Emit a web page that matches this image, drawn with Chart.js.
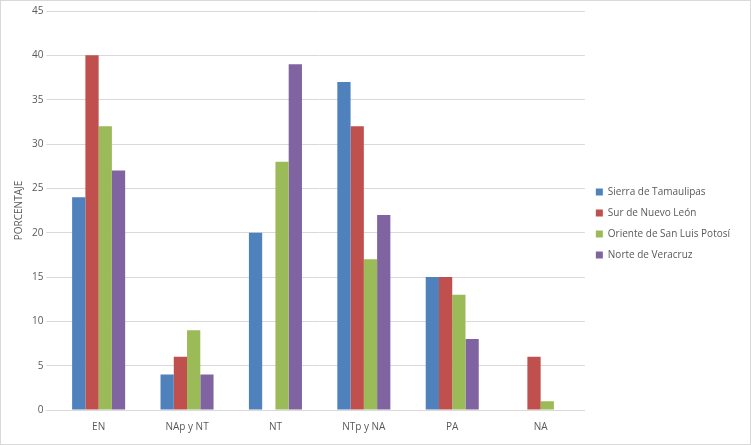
<!DOCTYPE html>
<html><head><meta charset="utf-8">
<script src="https://cdn.jsdelivr.net/npm/chart.js@4"></script>
<style>html,body{margin:0;padding:0;background:#fff}#w{width:749px;height:443px;border:1px solid #d9d9d9;position:relative}</style>
</head><body><div id="w"><canvas id="c"></canvas></div>
<script>
const categories=["EN","NAp y NT","NT","NTp y NA","PA","NA"];
const seriesNames=["Sierra de Tamaulipas","Sur de Nuevo León","Oriente de San Luis Potosí","Norte de Veracruz"];
const sierra=[24,4,20,37,15,0];
const sur=[40,6,0,32,15,6];
const oriente=[32,9,28,17,13,1];
const norte=[27,4,39,22,8,0];
const colors=["#4f81bd","#c0504d","#9bbb59","#8064a2"];
const vals=[sierra,sur,oriente,norte];
Chart.defaults.font.family="'Open Sans', sans-serif";
Chart.defaults.color="#595959";
new Chart(document.getElementById('c'),{type:'bar',
data:{labels:categories,datasets:seriesNames.map((n,i)=>({label:n,data:vals[i],backgroundColor:colors[i],categoryPercentage:0.6,barPercentage:1}))},
options:{responsive:true,maintainAspectRatio:false,animation:false,
layout:{padding:{left:8,right:10,top:10,bottom:8}},
plugins:{legend:{position:'right',labels:{boxWidth:7,boxHeight:7,font:{size:10},padding:11}},tooltip:{enabled:false}},
scales:{x:{grid:{display:false},border:{color:'#d9d9d9'},ticks:{font:{size:10}}},
y:{min:0,max:45,ticks:{stepSize:5,font:{size:10}},grid:{color:'#d9d9d9'},border:{display:false},
title:{display:true,text:'PORCENTAJE',font:{size:10}}}}}});
</script></body></html>
